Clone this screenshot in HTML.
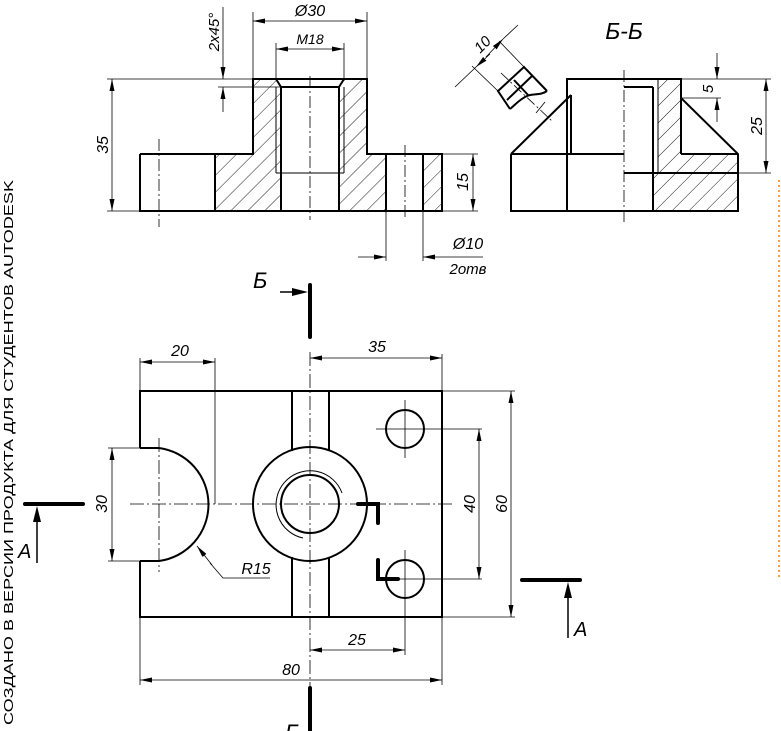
<!DOCTYPE html>
<html><head><meta charset="utf-8"><style>
html,body{margin:0;padding:0;background:#fff;width:781px;height:731px;overflow:hidden}
svg{display:block}
text{font-family:"Liberation Sans","DejaVu Sans",sans-serif;font-style:italic;fill:#000}
</style></head><body>
<svg width="781" height="731" viewBox="0 0 781 731" xmlns="http://www.w3.org/2000/svg">
<defs>
<marker id="a" viewBox="0 0 12 6" refX="12" refY="3" markerWidth="12" markerHeight="6" markerUnits="userSpaceOnUse" orient="auto"><path d="M0,0.5 L12,3 L0,5.5z" fill="#000"/></marker>
<marker id="b" viewBox="0 0 12 6" refX="0" refY="3" markerWidth="12" markerHeight="6" markerUnits="userSpaceOnUse" orient="auto"><path d="M12,0.5 L0,3 L12,5.5z" fill="#000"/></marker>
<pattern id="h" patternUnits="userSpaceOnUse" width="12" height="12" patternTransform="rotate(45)"><line x1="0" y1="0" x2="0" y2="12" stroke="#000" stroke-width="0.9"/></pattern>
</defs>

<text x="0" y="0" transform="translate(13,725) rotate(-90)" font-size="13" style="font-style:normal" textLength="545" lengthAdjust="spacingAndGlyphs">СОЗДАНО В ВЕРСИИ ПРОДУКТА ДЛЯ СТУДЕНТОВ AUTODESK</text>
<line x1="779" y1="180" x2="779" y2="580" stroke="#f0a040" stroke-width="2" stroke-dasharray="2,3"/>

<g fill="url(#h)" stroke="none">
<polygon points="215,154 253,154 253,79 276,79 281,87 281,211 215,211"/>
<polygon points="339,87 344,79 367,79 367,154 386,154 386,211 339,211"/>
<polygon points="423,154 442,154 442,211 423,211"/>
</g>
<g fill="none" stroke="#000" stroke-width="2">
<polyline points="140,154 253,154 253,79 367,79 367,154 442,154 442,211 140,211 140,154"/>
<line x1="215" y1="154" x2="215" y2="211"/>
<line x1="281" y1="87" x2="281" y2="211"/>
<line x1="339" y1="87" x2="339" y2="211"/>
<line x1="281" y1="87" x2="339" y2="87"/>
<line x1="276" y1="79" x2="281" y2="87"/>
<line x1="344" y1="79" x2="339" y2="87"/>
<line x1="386" y1="154" x2="386" y2="211"/>
<line x1="423" y1="154" x2="423" y2="211"/>
</g>
<g fill="none" stroke="#000" stroke-width="1">
<line x1="276" y1="87" x2="276" y2="173"/>
<line x1="344" y1="87" x2="344" y2="173"/>
<line x1="276" y1="173" x2="344" y2="173"/>
</g>
<g stroke="#000" stroke-width="0.8" stroke-dasharray="12,3,2,3" fill="none">
<line x1="310" y1="76" x2="310" y2="220"/>
<line x1="159" y1="139" x2="159" y2="227"/>
<line x1="405" y1="145" x2="405" y2="220"/>
</g>
<g stroke="#000" stroke-width="0.8" fill="none">
<line x1="107" y1="79" x2="253" y2="79"/>
<line x1="107" y1="211" x2="140" y2="211"/>
<line x1="112" y1="79" x2="112" y2="211" marker-start="url(#b)" marker-end="url(#a)"/>
<line x1="253" y1="12" x2="253" y2="79"/><line x1="367" y1="12" x2="367" y2="79"/>
<line x1="253" y1="21" x2="367" y2="21" marker-start="url(#b)" marker-end="url(#a)"/>
<line x1="276" y1="43" x2="276" y2="79"/><line x1="344" y1="43" x2="344" y2="79"/>
<line x1="276" y1="49" x2="344" y2="49" marker-start="url(#b)" marker-end="url(#a)"/>
<line x1="223" y1="7" x2="223" y2="79" marker-end="url(#a)"/>
<line x1="223" y1="112" x2="223" y2="87" marker-end="url(#a)"/>
<line x1="218" y1="87" x2="281" y2="87"/>
<line x1="442" y1="154" x2="478" y2="154"/><line x1="442" y1="211" x2="478" y2="211"/>
<line x1="473" y1="154" x2="473" y2="211" marker-start="url(#b)" marker-end="url(#a)"/>
<line x1="386" y1="211" x2="386" y2="261"/><line x1="423" y1="211" x2="423" y2="261"/>
<line x1="358" y1="257" x2="386" y2="257" marker-end="url(#a)"/>
<line x1="483" y1="257" x2="423" y2="257" marker-end="url(#a)"/>
</g>
<text x="310" y="16" font-size="16" text-anchor="middle">Ø30</text>
<text x="310" y="44" font-size="14" text-anchor="middle">M18</text>
<text transform="translate(108,145) rotate(-90)" font-size="16" text-anchor="middle">35</text>
<text transform="translate(219,32) rotate(-90)" font-size="15" text-anchor="middle">2x45°</text>
<text transform="translate(468,182) rotate(-90)" font-size="16" text-anchor="middle">15</text>
<text x="468" y="249" font-size="16" text-anchor="middle">Ø10</text>
<text x="468" y="274" font-size="15" text-anchor="middle">2отв</text>

<text x="624" y="39" font-size="23" text-anchor="middle">Б-Б</text>
<polygon points="658,79 681,79 681,154 738,154 738,211 653,211 653,173 658,173" fill="url(#h)"/>
<g fill="none" stroke="#000" stroke-width="2">
<polyline points="511,154 511,211 738,211 738,154 681,98 681,79 567,79 567,211"/>
<line x1="511" y1="154" x2="571" y2="95"/>
<line x1="571" y1="95" x2="571" y2="154"/>
<line x1="511" y1="154" x2="624" y2="154"/>
<line x1="681" y1="154" x2="738" y2="154"/>
<line x1="681" y1="79" x2="681" y2="154"/>
<line x1="624" y1="87" x2="653" y2="87"/>
<line x1="653" y1="87" x2="653" y2="211"/>
<line x1="624" y1="173" x2="738" y2="173"/>
</g>
<line x1="658" y1="79" x2="658" y2="173" stroke="#000" stroke-width="1"/>
<line x1="624" y1="70" x2="624" y2="222" stroke="#000" stroke-width="0.8" stroke-dasharray="12,3,2,3"/>
<g stroke="#000" stroke-width="0.8" fill="none">
<line x1="681" y1="79" x2="771" y2="79"/>
<line x1="681" y1="98" x2="721" y2="98"/>
<line x1="717" y1="53" x2="717" y2="79" marker-end="url(#a)"/>
<line x1="717" y1="122" x2="717" y2="98" marker-end="url(#a)"/>
<line x1="738" y1="173" x2="771" y2="173"/>
<line x1="766" y1="79" x2="766" y2="173" marker-start="url(#b)" marker-end="url(#a)"/>
</g>
<text transform="translate(713,89) rotate(-90)" font-size="15" text-anchor="middle">5</text>
<text transform="translate(762,126) rotate(-90)" font-size="16" text-anchor="middle">25</text>

<g fill="none" stroke="#000" stroke-width="2">
<polyline points="510,109 498,91 524,67 547,91"/>
<path d="M547,91 C540,96 533,93 527,96 C520,99 516,104 510,109"/>
<line x1="507" y1="100" x2="532" y2="76"/>
<line x1="514" y1="80" x2="529" y2="96"/>
</g>
<g stroke="#000" stroke-width="0.8" fill="none">
<line x1="498" y1="91" x2="472" y2="66"/>
<line x1="524" y1="67" x2="499" y2="41"/>
<line x1="455" y1="87" x2="476" y2="67" />
<line x1="518" y1="25" x2="503" y2="39"/>
<line x1="490" y1="54" x2="476" y2="67" marker-end="url(#a)"/>
<line x1="486" y1="57" x2="503" y2="39" marker-end="url(#a)"/>
<line x1="501" y1="73" x2="552" y2="121" stroke-dasharray="10,3,2,3"/>
<line x1="545" y1="102" x2="536" y2="113"/>
</g>
<text transform="translate(486,48) rotate(-45)" font-size="15" text-anchor="middle">10</text>

<g fill="none" stroke="#000" stroke-width="2">
<polyline points="140,448 140,391 442,391 442,617 140,617 140,561"/>
<path d="M140,448 L159,448 A57,57 0 0 1 159,561 L140,561"/>
<line x1="292" y1="391" x2="292" y2="451"/><line x1="329" y1="391" x2="329" y2="451"/>
<line x1="292" y1="557" x2="292" y2="617"/><line x1="329" y1="557" x2="329" y2="617"/>
<circle cx="310" cy="504" r="57"/>
<circle cx="310" cy="504" r="29"/>
<circle cx="405" cy="429" r="19"/>
<circle cx="405" cy="579" r="19"/>
</g>
<path d="M303,538 A34,34 0 1 1 342,493" fill="none" stroke="#000" stroke-width="1"/>
<g stroke="#000" stroke-width="0.8" stroke-dasharray="14,3,2,3" fill="none">
<line x1="130" y1="504" x2="452" y2="504"/>
<line x1="310" y1="352" x2="310" y2="700"/>
<line x1="159" y1="438" x2="159" y2="572"/>
</g>
<g stroke="#000" stroke-width="0.8" fill="none">
<line x1="405" y1="400" x2="405" y2="458"/>
<line x1="376" y1="429" x2="482" y2="429"/>
<line x1="376" y1="579" x2="482" y2="579"/>
<line x1="405" y1="550" x2="405" y2="655"/>
<line x1="479" y1="429" x2="479" y2="579" marker-start="url(#b)" marker-end="url(#a)"/>
<line x1="442" y1="391" x2="515" y2="391"/><line x1="442" y1="617" x2="515" y2="617"/>
<line x1="511" y1="391" x2="511" y2="617" marker-start="url(#b)" marker-end="url(#a)"/>
<line x1="140" y1="358" x2="140" y2="391"/>
<line x1="215" y1="358" x2="215" y2="504"/>
<line x1="140" y1="362" x2="215" y2="362" marker-start="url(#b)" marker-end="url(#a)"/>
<line x1="442" y1="354" x2="442" y2="391"/>
<line x1="310" y1="358" x2="442" y2="358" marker-start="url(#b)" marker-end="url(#a)"/>
<line x1="108" y1="448" x2="140" y2="448"/><line x1="108" y1="561" x2="140" y2="561"/>
<line x1="112" y1="448" x2="112" y2="561" marker-start="url(#b)" marker-end="url(#a)"/>
<polyline points="270,578 223,578 210,563"/>
<line x1="212" y1="565" x2="197" y2="546" marker-end="url(#a)"/>
<line x1="310" y1="650" x2="405" y2="650" marker-start="url(#b)" marker-end="url(#a)"/>
<line x1="140" y1="617" x2="140" y2="685"/><line x1="442" y1="617" x2="442" y2="685"/>
<line x1="140" y1="680" x2="442" y2="680" marker-start="url(#b)" marker-end="url(#a)"/>
</g>
<text x="180" y="356" font-size="16" text-anchor="middle">20</text>
<text x="377" y="352" font-size="16" text-anchor="middle">35</text>
<text transform="translate(107,504) rotate(-90)" font-size="16" text-anchor="middle">30</text>
<text x="256" y="574" font-size="16" text-anchor="middle">R15</text>
<text transform="translate(475,504) rotate(-90)" font-size="16" text-anchor="middle">40</text>
<text transform="translate(507,504) rotate(-90)" font-size="16" text-anchor="middle">60</text>
<text x="357" y="645" font-size="16" text-anchor="middle">25</text>
<text x="291" y="675" font-size="16" text-anchor="middle">80</text>

<g stroke="#000" stroke-width="4" stroke-linecap="round" fill="none">
<line x1="25" y1="504" x2="83" y2="504"/>
<line x1="522" y1="580" x2="580" y2="580"/>
<polyline points="358,504 378,504 378,523"/>
<polyline points="378,560 378,579 398,579"/>
<line x1="310" y1="285" x2="310" y2="337"/>
<line x1="310" y1="688" x2="310" y2="731"/>
</g>
<g fill="#000">
<line x1="37" y1="563" x2="37" y2="520" stroke="#000" stroke-width="1.5"/>
<polygon points="37,506 33,522 41,522"/>
<line x1="568" y1="638" x2="568" y2="596" stroke="#000" stroke-width="1.5"/>
<polygon points="568,582 564,598 572,598"/>
<line x1="280" y1="292" x2="294" y2="292" stroke="#000" stroke-width="1.5"/>
<polygon points="308,292 292,288 292,296"/>
</g>
<text x="18" y="558" font-size="20">A</text>
<text x="574" y="636" font-size="20">A</text>
<text x="253" y="288" font-size="22">Б</text>
<text x="285" y="740" font-size="22">Б</text>
</svg>
</body></html>
